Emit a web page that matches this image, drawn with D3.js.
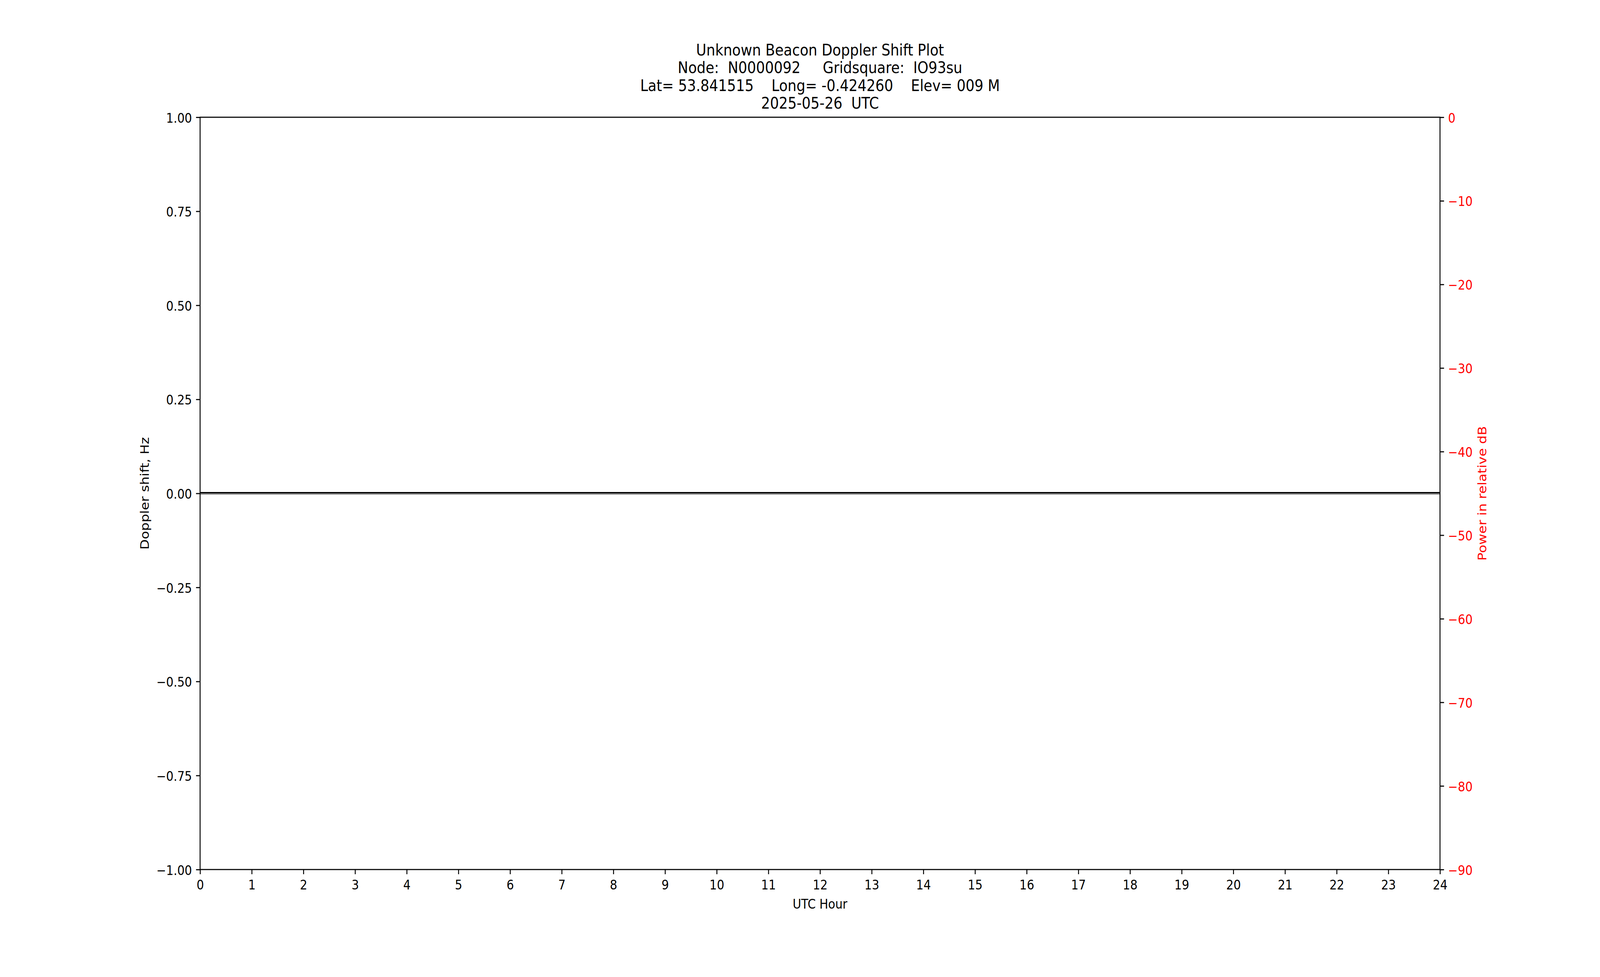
<!DOCTYPE html>
<html>
  <head>
    <meta charset='utf-8'>
    <script src="https://d3js.org/d3.v7.min.js"></script>
    <title>Unknown Beacon Doppler Shift Plot</title>
    <style>
      html, body { margin: 0; padding: 0; background: #fff; overflow: hidden; }
      svg { display: block; }
      text { font-family: 'DejaVu Sans', sans-serif; }
    </style>
  </head>
  <body>
    <div id='plotDIV'></div>
    <script>

  // chart data
  var titleLines = [
    "Unknown Beacon Doppler Shift Plot",
    "Node:  N0000092     Gridsquare:  IO93su",
    "Lat= 53.841515    Long= -0.424260    Elev= 009 M",
    "2025-05-26  UTC"
  ];
  var hourTicks = d3.range(0, 25);            // 0 .. 24
  var dopplerTicks = [-1, -0.75, -0.5, -0.25, 0, 0.25, 0.5, 0.75, 1];
  var powerTicks = [0, -10, -20, -30, -40, -50, -60, -70, -80, -90];
  var hours = [0, 24];
  var doppler = [0, 0];

  // drawn in a 4750x2500 box, stretched to whatever the window really is
  const W = 4750, H = 2500;
  const margin = { top: 300, right: 475, bottom: 275, left: 594 },
    width = W - margin.left - margin.right,
    height = H - margin.top - margin.bottom;

  const tickFont = 34.5, titleFont = 41.5;
  const axisW = 2.8, tickLen = 12, tickPad = 12;

  var xScale = d3.scaleLinear().domain([0, 24]).range([0, width]);
  var yScale = d3.scaleLinear().domain([-1, 1]).range([height, 0]);
  var y2Scale = d3.scaleLinear().domain([-90, 0]).range([height, 0]);

  var vw = window.innerWidth || document.documentElement.clientWidth || W;
  var vh = window.innerHeight || document.documentElement.clientHeight || H;

  var svg = d3.select("#plotDIV")
    .append("svg")
    .attr("width", vw)
    .attr("height", vh)
    .attr("viewBox", "0 0 " + W + " " + H)
    .attr("preserveAspectRatio", "none")
    .style("background", "#fff");

  // title
  svg.append("text")
    .attr("x", margin.left + width / 2)
    .attr("y", 141.7)
    .attr("text-anchor", "middle")
    .style("font-size", titleFont + "px")
    .style("white-space", "pre")
    .attr("xml:space", "preserve")
    .selectAll("tspan")
    .data(titleLines)
    .enter()
    .append("tspan")
      .attr("x", margin.left + width / 2)
      .attr("dy", (d, i) => i == 0 ? 0 : 45.5)
      .text(d => d);

  var plot = svg.append("g")
    .attr("transform", "translate(" + margin.left + "," + margin.top + ")");

  function styleAxis(g, color) {
    g.selectAll(".domain").remove();
    g.selectAll(".tick line").attr("stroke", "#000").attr("stroke-width", axisW);
    g.selectAll(".tick text")
      .attr("fill", color)
      .style("font-size", tickFont + "px")
      .style("font-family", "'DejaVu Sans', sans-serif");
  }

  // bottom axis
  var gx = plot.append("g")
    .attr("transform", "translate(0," + height + ")")
    .call(d3.axisBottom(xScale).tickValues(hourTicks).tickFormat(d3.format("d"))
      .tickSizeInner(tickLen).tickSizeOuter(0).tickPadding(tickPad));
  styleAxis(gx, "#000");
  gx.selectAll(".tick text").attr("dy", null).attr("y", tickLen + tickPad + 27.5);

  // left axis
  var gy = plot.append("g")
    .call(d3.axisLeft(yScale).tickValues(dopplerTicks).tickFormat(d3.format(".2f"))
      .tickSizeInner(tickLen).tickSizeOuter(0).tickPadding(tickPad));
  styleAxis(gy, "#000");
  gy.selectAll(".tick text").attr("dy", null).attr("y", 13);

  // right axis
  var gy2 = plot.append("g")
    .attr("transform", "translate(" + width + ",0)")
    .call(d3.axisRight(y2Scale).tickValues(powerTicks).tickFormat(d3.format("d"))
      .tickSizeInner(tickLen).tickSizeOuter(0).tickPadding(tickPad));
  styleAxis(gy2, "red");
  gy2.selectAll(".tick text").attr("dy", null).attr("y", 13);

  // doppler trace
  var line = d3.line()
    .x((d, i) => xScale(hours[i]))
    .y(d => yScale(d));

  plot.append("path")
    .datum(doppler)
    .attr("d", line)
    .attr("fill", "none")
    .attr("stroke", "#999")
    .attr("stroke-width", 6.8);

  plot.append("path")
    .datum(doppler)
    .attr("d", line)
    .attr("transform", "translate(0,-1.7)")
    .attr("fill", "none")
    .attr("stroke", "#000")
    .attr("stroke-width", 3.4);

  // frame
  plot.append("rect")
    .attr("x", 0)
    .attr("y", 0)
    .attr("width", width)
    .attr("height", height)
    .attr("fill", "none")
    .attr("stroke", "#000")
    .attr("stroke-width", axisW);

  // axis labels
  plot.append("text")
    .attr("x", width / 2)
    .attr("y", height + 100)
    .attr("text-anchor", "middle")
    .style("font-size", tickFont + "px")
    .text("UTC Hour");

  plot.append("text")
    .attr("transform", "translate(" + (442 - margin.left) + "," + height / 2 + ") rotate(-90)")
    .attr("text-anchor", "middle")
    .style("font-size", tickFont + "px")
    .text("Doppler shift, Hz");

  plot.append("text")
    .attr("transform", "translate(" + (4413 - margin.left) + "," + height / 2 + ") rotate(-90)")
    .attr("text-anchor", "middle")
    .attr("fill", "red")
    .style("font-size", tickFont + "px")
    .text("Power in relative dB");

    </script>
  </body>
</html>
